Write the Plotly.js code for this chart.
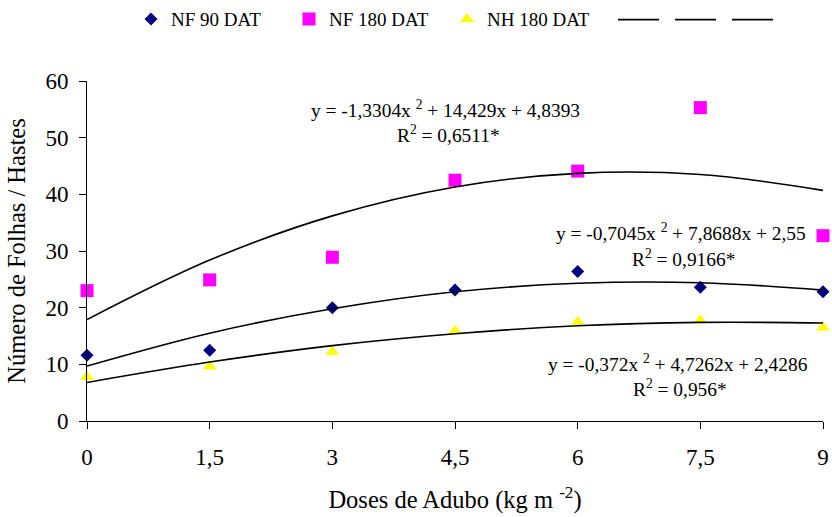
<!DOCTYPE html>
<html>
<head>
<meta charset="utf-8">
<script src="https://cdn.plot.ly/plotly-3.0.1.min.js"></script>
<style>html,body{margin:0;padding:0;background:#fff;}#chart{width:832px;height:517px;}</style>
</head>
<body>
<div id="chart"></div>
<script>
// ---- data ----
const doses = [0, 1.5, 3, 4.5, 6, 7.5, 9];
const doseLabels = ['0', '1,5', '3', '4,5', '6', '7,5', '9'];
const nf90 = [11.6, 12.5, 20.0, 23.1, 26.4, 23.6, 22.8];
const nf180 = [23.0, 24.9, 28.9, 42.5, 44.1, 55.3, 32.7];
const nh180 = [7.8, 9.6, 12.2, 15.9, 17.5, 17.8, 16.5];
// fitted trend curves as drawn in the picture, read at each dose
const trendNF180 = [17.9, 28.4, 36.2, 41.3, 43.7, 43.5, 40.7];
const trendNF90 = [9.7, 15.5, 19.8, 22.8, 24.3, 24.4, 23.1];
const trendNH180 = [6.8, 10.4, 13.3, 15.4, 16.8, 17.4, 17.3];
const seriesNames = ['NF 90 DAT', 'NF 180 DAT', 'NH 180 DAT'];
const eqTexts = [
  'y = -1,3304x <sup>2</sup> + 14,429x + 4,8393',
  'y = -0,7045x <sup>2</sup> + 7,8688x + 2,55',
  'y = -0,372x <sup>2</sup> + 4,7262x + 2,4286'
];
const r2Texts = ['R<sup>2</sup> = 0,6511*', 'R<sup>2</sup> = 0,9166*', 'R<sup>2</sup> = 0,956*'];

const FONT = '"Liberation Serif", "Times New Roman", Times, serif';

function markerTrace(y, name, symbol, color, size) {
  return {x: doses, y: y, name: name, type: 'scatter', mode: 'markers',
    marker: {symbol: symbol, color: color, size: size, line: {width: 0}},
    cliponaxis: false, legend: 'legend'};
}
function lineTrace(y) {
  return {x: doses, y: y, name: ' ', type: 'scatter', mode: 'lines',
    line: {color: '#000', width: 1.6, shape: 'spline', smoothing: 1},
    cliponaxis: false, legend: 'legend2'};
}

const data = [
  markerTrace(nf90, seriesNames[0], 'diamond', '#000080', 10),
  markerTrace(nf180, seriesNames[1], 'square', '#FF00FF', 13),
  markerTrace(nh180, seriesNames[2], 'triangle-up', '#FFFF00', 12),
  lineTrace(trendNF180),
  lineTrace(trendNF90),
  lineTrace(trendNH180)
];

const annFont = {family: FONT, size: 19.4, color: '#000'};
function ann(text, x, y) {
  return {text: text, x: x, y: y, xref: 'x', yref: 'y', showarrow: false,
    font: annFont, xanchor: 'center', yanchor: 'middle'};
}

const layout = {
  width: 832, height: 517,
  paper_bgcolor: '#fff', plot_bgcolor: '#fff',
  margin: {l: 87, r: 9, t: 81, b: 96, autoexpand: false},
  font: {family: FONT, color: '#000'},
  showlegend: true,
  legend: {orientation: 'h', x: 0.0598, xanchor: 'left', y: 1.182, yanchor: 'middle',
    font: {family: FONT, size: 19, color: '#000'}, entrywidth: 113, entrywidthmode: 'pixels',
    bgcolor: 'rgba(0,0,0,0)', traceorder: 'normal'},
  legend2: {orientation: 'h', x: 0.7147, xanchor: 'left', y: 1.18, yanchor: 'middle',
    font: {family: FONT, size: 19, color: '#000'}, itemwidth: 41, entrywidth: 1, entrywidthmode: 'pixels',
    bgcolor: 'rgba(0,0,0,0)', traceorder: 'normal'},
  xaxis: {
    range: [0, 9], tickvals: doses, ticktext: doseLabels,
    showgrid: false, zeroline: false, showline: true, linecolor: '#000', linewidth: 1,
    ticks: 'outside', ticklen: 7, tickcolor: '#000', tickwidth: 1,
    tickfont: {family: FONT, size: 23, color: '#000'}, ticklabelstandoff: 8,
    title: {text: 'Doses de Adubo (kg m <sup>-2</sup>)', font: {family: FONT, size: 24.5, color: '#000'}, standoff: 22},
    automargin: false, fixedrange: true
  },
  yaxis: {
    range: [0, 60], dtick: 10, tick0: 0,
    showgrid: false, zeroline: false, showline: true, linecolor: '#000', linewidth: 1,
    ticks: 'outside', ticklen: 7, tickcolor: '#000', tickwidth: 1,
    tickfont: {family: FONT, size: 23, color: '#000'}, ticklabelstandoff: 6,
    title: {text: 'Número de Folhas / Hastes', font: {family: FONT, size: 24.5, color: '#000'}, standoff: 12},
    automargin: false, fixedrange: true
  },
  annotations: [
    ann(eqTexts[0], 4.38, 55.0), ann(r2Texts[0], 4.42, 50.6),
    ann(eqTexts[1], 7.26, 33.4), ann(r2Texts[1], 7.30, 28.8),
    ann(eqTexts[2], 7.23, 10.2), ann(r2Texts[2], 7.25, 5.8)
  ]
};

Plotly.newPlot('chart', data, layout, {displayModeBar: false, staticPlot: true});
</script>
</body>
</html>
